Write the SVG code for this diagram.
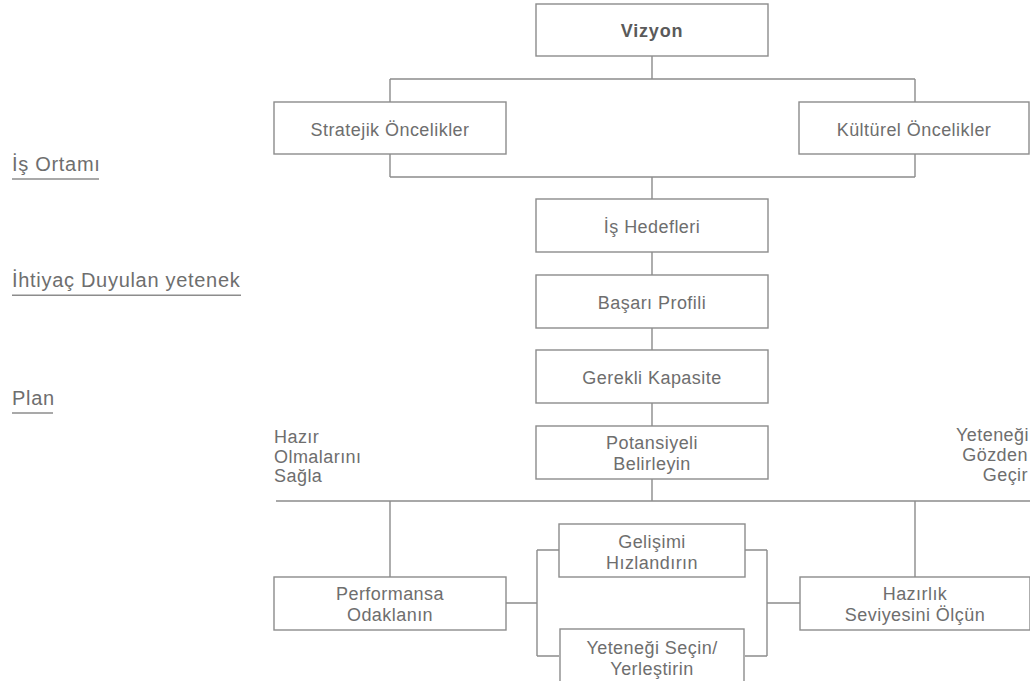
<svg xmlns="http://www.w3.org/2000/svg" width="1030" height="681" viewBox="0 0 1030 681">
<style>
.box{fill:#fff;stroke:#8c8c8c;stroke-width:1.4}
.ln{fill:none;stroke:#8c8c8c;stroke-width:1.4}
.t{font-family:"Liberation Sans",Arial,sans-serif;font-size:18px;fill:#6e6e6e;letter-spacing:0.45px;text-anchor:middle}
.b{font-weight:bold;fill:#5a5a5a;letter-spacing:0.8px}
.side{font-family:"Liberation Sans",Arial,sans-serif;font-size:20px;fill:#6e6e6e;letter-spacing:0.7px}
.s{font-family:"Liberation Sans",Arial,sans-serif;font-size:18px;fill:#6e6e6e;letter-spacing:0.45px}
</style>
<rect width="1030" height="681" fill="#fff"/>
<g id="connectors">
<path class="ln" d="M652 56V79M390 79H915M390 79V102M915 79V102M390 154V177M915 154V177M390 177H915M652 177V199M652 252V275M652 328V350M652 403V426M652 479V501"/>
<path class="ln" d="M276 501H1030M390 501V577M915 501V577"/>
<path class="ln" d="M506 603H537M537 550V656M537 550H559M537 656H559"/>
<path class="ln" d="M745 550H767M745 656H767M767 550V656M767 603H800"/>
</g>
<g id="side-labels">
<text class="side" x="12" y="170.5">İş Ortamı</text>
<path class="ln" d="M12 179H99"/>
<text class="side" x="12" y="287">İhtiyaç Duyulan yetenek</text>
<path class="ln" d="M12 295.3H241"/>
<text class="side" x="12" y="405">Plan</text>
<path class="ln" d="M12 413H53"/>
</g>
<g id="hazir-label">
<text class="s" x="274" y="443">Hazır</text>
<text class="s" x="274" y="462.5">Olmalarını</text>
<text class="s" x="274" y="482">Sağla</text>
</g>
<g id="gozden-label">
<text class="s" x="1029" y="441" text-anchor="end">Yeteneği</text>
<text class="s" x="1028" y="460.5" text-anchor="end">Gözden</text>
<text class="s" x="1028" y="481" text-anchor="end">Geçir</text>
</g>
<g id="vizyon">
<rect class="box" x="536" y="4" width="232" height="52"/>
<text class="t b" x="652" y="37">Vizyon</text>
</g>
<g id="stratejik">
<rect class="box" x="274" y="102" width="232" height="52"/>
<text class="t" x="390" y="135.5">Stratejik Öncelikler</text>
</g>
<g id="kulturel">
<rect class="box" x="799" y="102" width="230" height="52"/>
<text class="t" x="914" y="135.5">Kültürel Öncelikler</text>
</g>
<g id="is-hedefleri">
<rect class="box" x="536" y="199" width="232" height="53"/>
<text class="t" x="652" y="233">İş Hedefleri</text>
</g>
<g id="basari-profili">
<rect class="box" x="536" y="275" width="232" height="53"/>
<text class="t" x="652" y="309">Başarı Profili</text>
</g>
<g id="gerekli-kapasite">
<rect class="box" x="536" y="350" width="232" height="53"/>
<text class="t" x="652" y="384">Gerekli Kapasite</text>
</g>
<g id="potansiyeli">
<rect class="box" x="536" y="426" width="232" height="53"/>
<text class="t" x="652" y="448.5">Potansiyeli</text>
<text class="t" x="652" y="469.5">Belirleyin</text>
</g>
<g id="performansa">
<rect class="box" x="274" y="577" width="232" height="53"/>
<text class="t" x="390" y="600">Performansa</text>
<text class="t" x="390" y="621">Odaklanın</text>
</g>
<g id="gelisimi">
<rect class="box" x="559" y="524" width="186" height="53"/>
<text class="t" x="652" y="547.5">Gelişimi</text>
<text class="t" x="652" y="568.5">Hızlandırın</text>
</g>
<g id="yetenegi-secin">
<rect class="box" x="560" y="629" width="184" height="56"/>
<text class="t" x="652" y="653.5">Yeteneği Seçin/</text>
<text class="t" x="652" y="675">Yerleştirin</text>
</g>
<g id="hazirlik">
<rect class="box" x="800" y="577" width="230" height="53"/>
<text class="t" x="915" y="600">Hazırlık</text>
<text class="t" x="915" y="621">Seviyesini Ölçün</text>
</g>
</svg>
